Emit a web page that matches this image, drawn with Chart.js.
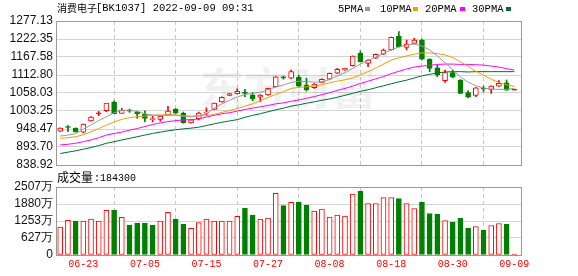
<!DOCTYPE html>
<html><head><meta charset="utf-8">
<script src="https://cdn.jsdelivr.net/npm/chart.js@4.4.1/dist/chart.umd.min.js"></script>
<style>
html,body{margin:0;padding:0;background:#fff;}
#wrap{position:relative;width:578px;height:276px;overflow:hidden;}
canvas{position:absolute;left:0;top:0;}
</style></head><body>
<div id="wrap">
<canvas id="k" width="578" height="276"></canvas>
<canvas id="v" width="578" height="276"></canvas>
</div>
<script>
// ---------------- data ----------------
const categories = ["06-20","06-21","06-22","06-23","06-24","06-27","06-28","06-29","06-30","07-01",
"07-04","07-05","07-06","07-07","07-08","07-11","07-12","07-13","07-14","07-15",
"07-18","07-19","07-20","07-21","07-22","07-25","07-26","07-27","07-28","07-29",
"08-01","08-02","08-03","08-04","08-05","08-08","08-09","08-10","08-11","08-12",
"08-15","08-16","08-17","08-18","08-19","08-22","08-23","08-24","08-25","08-26",
"08-29","08-30","08-31","09-01","09-02","09-05","09-06","09-07","09-08","09-09"];
const open  = [942,954,951.5,938.5,973,995,1004,1030.5,996,1005.5,1001,993,977,978,992,1009,996,967,980,997,1008,1030.5,1051,1056,1059,1052,1045,1052,1077,1106,1103,1106,1082,1074,1090.6,1100,1118,1128,1141,1179,1148,1164,1176,1189,1231.5,1197,1209,1219,1161.5,1135,1095.5,1120,1097.6,1059,1051,1072,1069,1079,1089,1067];
const high  = [952,958.5,952,964,986,1002,1027,1034.5,1011.5,1009,1003,1004,987,989,1017.5,1011,1000,977,1000,1013,1027,1046,1057,1071,1069,1059,1053,1073,1108,1109,1128,1113,1103,1087,1101,1119,1133,1134,1171,1186,1160,1177,1192,1228,1244.6,1219,1224.5,1222,1162,1143,1128,1128,1099,1065,1075,1079,1080,1095.5,1097.6,1068];
const low   = [941,940,939,937,972,989,1001,995,996,999,981,970,970,972,991,996,966,966,976,991,1007,1030,1050,1055,1047,1034.6,1031,1051,1076,1100,1102,1078,1064,1072,1090,1099,1117,1127,1140,1152,1138,1163,1175,1188,1198,1189,1208,1159,1123,1107.6,1090.6,1104,1056,1044,1047,1062,1057,1078,1066,1067];
const close = [951,953,939.5,963.5,985,997,1027,995,1005,1003,994,981,980,988,1003,997,967.6,976,997,1000,1027,1045,1056,1063,1057,1040,1052,1072,1107.6,1104,1123,1079,1068,1085,1099.7,1118,1130,1133,1170.6,1153,1158,1176,1189,1227.5,1199,1207,1219,1160.6,1133,1113,1120,1106,1057,1045,1074,1070,1079,1087.5,1067,1068];
const ma5  = [927,930,934,948,961,974,986,998,1005,1006,1002,995,991,990,990,991,987,985,988,995,1011,1025,1036,1046,1053,1057,1060,1068,1077,1082,1090,1094,1093,1091,1092,1099,1110,1120,1133,1146,1157,1168,1178,1190,1198,1204,1207,1201,1189,1171,1150,1129,1107,1091,1080,1073,1070,1069,1069,1072];
const ma10 = [920,922,925,931,940,950,960,970,978,983,986,988,990,991,992,991,989,988,988,989,993,999,1005,1011,1018,1025,1034,1044,1054,1062,1072,1075,1077,1079,1083,1089,1094,1098,1104,1113,1123,1134,1146,1158,1165,1171,1176,1180,1180,1178,1174,1166,1153,1139,1124,1112,1100,1090,1083,1078];
const ma20 = [900,902,905,910,915,922,930,935,939,945,950,956,962,967,971,974,976,977,979,985,990,995,998,1003,1008,1012,1016,1020,1025,1028,1033,1037,1042,1047,1053,1059,1066,1072,1079,1087,1094,1101,1108,1117,1124,1131,1137,1140,1142,1145,1146,1146,1145,1145,1144,1143,1140,1137,1132,1128];
const ma30 = [874,878,882,887,892,898,905,910,915,920,925,930,935,939,943,946,949,951,954,959,964,969,973,977,984,990,995,1001,1007,1012,1018,1022,1027,1031,1036,1040,1045,1051,1057,1063,1068,1074,1080,1086,1092,1097,1104,1110,1115,1119,1122,1123,1123,1122,1123,1123,1123,1123,1123,1123];
const volume = [1032,1278,1253,1253,1327,1253,1647,1659,1389,1106,1180,1180,1106,1253,1573,1327,1143,983,1192,1327,1253,1253,1253,1426,1733,1475,1327,1364,2274,1819,1942,1954,1844,1622,1696,1401,1475,1438,2249,2361,1897,1897,2117,2117,2080,1897,1713,1945,1530,1505,1273,1211,1358,991,1052,905,1089,1162,1138,18.43];
const priceTicks = [838.92,893.70,948.47,1003.25,1058.03,1112.80,1167.58,1222.35,1277.13];
const volumeTicks = [0,627,1253,1880,2507];
const dateTickLabels = ["06-23","07-05","07-15","07-27","08-08","08-18","08-30","09-09"];
const maNames = ["5PMA","10PMA","20PMA","30PMA"];
const titleName = "消费电子";
const titleCode = "[BK1037] 2022-09-09 09:31";
const volumeLabel = "成交量";
const volumeNow = "184300";

// ---------------- styling ----------------
const RED = '#ff0000', GREEN = '#008000';
const MA_COLORS = ['#999999', '#f0a000', '#ff00ff', '#006e36'];
const SANS = "'Liberation Sans', Arial, sans-serif";
const CJK = "'Noto Sans CJK SC', sans-serif";
const MONO = "'Liberation Mono', 'DejaVu Sans Mono', monospace";
const dateTickIdx = dateTickLabels.map(d => categories.indexOf(d));
const X_MIN = -0.55, X_MAX = 60;

const up = i => close[i] >= open[i];
const volUp = i => i === 0 ? true : close[i] >= close[i - 1];
const pts = arr => arr.map((v, i) => ({x: i, y: v}));

function frame(color) {
  return {
    id: 'frame',
    afterDatasetsDraw(chart) {
      const {ctx, chartArea: a} = chart;
      ctx.save();
      ctx.strokeStyle = color; ctx.lineWidth = 1;
      ctx.strokeRect(Math.round(a.left) + 0.5, Math.round(a.top) + 0.5, Math.round(a.right - a.left) - 1, Math.round(a.bottom - a.top));
      ctx.restore();
    }
  };
}

const xCommon = (showLabels) => ({
  type: 'linear', min: X_MIN, max: X_MAX, offset: false,
  afterBuildTicks: s => { s.ticks = dateTickIdx.map(v => ({value: v})); },
  afterFit: s => { s.height = showLabels ? 21 : 0; },
  ticks: {
    display: showLabels, autoSkip: false, maxRotation: 0, padding: 3,
    color: RED, font: {family: MONO, size: 10},
    callback: v => categories[v]
  },
  grid: {color: '#c8c8c8', drawTicks: false, lineWidth: 1},
  border: {display: false, dash: [4, 3]}
});

const yCommon = (ticks, fmt) => ({
  min: ticks[0], max: ticks[ticks.length - 1],
  afterBuildTicks: s => { s.ticks = ticks.map(v => ({value: v})); },
  afterFit: s => { s.width = 56; },
  ticks: {callback: fmt, autoSkip: false, color: '#111', font: {family: SANS, size: 12}, padding: 3},
  grid: {color: '#d4d4d4', drawTicks: false},
  border: {display: false}
});

// watermark + title + legend plugin
const kDecor = {
  id: 'kDecor',
  beforeDatasetsDraw(chart) {
    const ctx = chart.ctx;
    ctx.save();
    ctx.font = "bold 44px " + CJK;
    ctx.fillStyle = 'rgba(0,0,0,0.055)';
    ctx.textAlign = 'center'; ctx.textBaseline = 'middle';
    ctx.fillText('东方财富', 288, 88);
    ctx.restore();
  },
  afterDraw(chart) {
    const ctx = chart.ctx;
    ctx.save();
    ctx.textBaseline = 'middle'; ctx.fillStyle = '#000';
    ctx.font = "10px " + CJK;
    ctx.fillText(titleName, 57, 8.5);
    ctx.font = "10.5px " + MONO;
    ctx.fillText(titleCode, 96, 8.5);
    const lx = [338, 380, 425, 472];
    const sx = [365, 413, 460, 506];
    maNames.forEach((n, k) => {
      ctx.fillStyle = '#000';
      ctx.font = "10.5px " + MONO;
      ctx.fillText(n, lx[k], 9);
      ctx.fillStyle = MA_COLORS[k];
      ctx.fillRect(sx[k], 7, 5, 4);
    });
    ctx.restore();
  }
};

const vDecor = {
  id: 'vDecor',
  afterDraw(chart) {
    const ctx = chart.ctx;
    ctx.save();
    ctx.textBaseline = 'middle'; ctx.fillStyle = '#000';
    ctx.font = "12px " + CJK;
    ctx.fillText(volumeLabel, 57, 177.5);
    ctx.font = "10px " + MONO;
    ctx.fillText(':' + volumeNow, 94, 178);
    ctx.restore();
  }
};

Chart.defaults.animation = false;
Chart.defaults.font.family = SANS;

new Chart(document.getElementById('k'), {
  type: 'bar',
  data: {
    datasets: [
      {type: 'line', data: pts(ma5), borderColor: MA_COLORS[0], borderWidth: 1, pointRadius: 0, tension: 0, order: 0},
      {type: 'line', data: pts(ma10), borderColor: MA_COLORS[1], borderWidth: 1, pointRadius: 0, tension: 0, order: 0},
      {type: 'line', data: pts(ma20), borderColor: MA_COLORS[2], borderWidth: 1, pointRadius: 0, tension: 0, order: 0},
      {type: 'line', data: pts(ma30), borderColor: MA_COLORS[3], borderWidth: 1, pointRadius: 0, tension: 0, order: 0},
      {type: 'bar', grouped: false, order: 1, barThickness: 5, borderWidth: 1, borderSkipped: false, minBarLength: 1,
       data: categories.map((_, i) => ({x: i, y: [Math.min(open[i], close[i]), Math.max(open[i], close[i])]})),
       borderColor: c => up(c.dataIndex) ? RED : GREEN,
       backgroundColor: c => { const i = c.dataIndex; if (!up(i)) return GREEN; return Math.abs(close[i] - open[i]) < 3 ? RED : '#ffffff'; }},
      {type: 'bar', grouped: false, order: 2, barThickness: 1, borderWidth: 0,
       data: categories.map((_, i) => ({x: i, y: [low[i], high[i]]})),
       backgroundColor: c => up(c.dataIndex) ? RED : GREEN}
    ]
  },
  options: {
    responsive: false, maintainAspectRatio: false,
    layout: {padding: {top: 21, bottom: 111, left: 0, right: 56}},
    plugins: {legend: {display: false}, tooltip: {enabled: false}},
    scales: {
      x: xCommon(false),
      y: yCommon(priceTicks, v => v.toFixed(2))
    }
  },
  plugins: [kDecor, frame('#999999')]
});

new Chart(document.getElementById('v'), {
  type: 'bar',
  data: {
    datasets: [
      {type: 'bar', grouped: false, barThickness: 5, borderWidth: 1, borderSkipped: false, minBarLength: 1,
       data: pts(volume),
       borderColor: c => volUp(c.dataIndex) ? RED : GREEN,
       backgroundColor: c => { const i = c.dataIndex; if (!volUp(i)) return GREEN; return volume[i] < 100 ? RED : '#ffffff'; }}
    ]
  },
  options: {
    responsive: false, maintainAspectRatio: false,
    layout: {padding: {top: 187, bottom: 0, left: 0, right: 56}},
    plugins: {legend: {display: false}, tooltip: {enabled: false}},
    scales: {
      x: xCommon(true),
      y: yCommon(volumeTicks, v => v === 0 ? '0' : v + '万')
    }
  },
  plugins: [vDecor, frame('#999999')]
});
</script>
</body></html>
